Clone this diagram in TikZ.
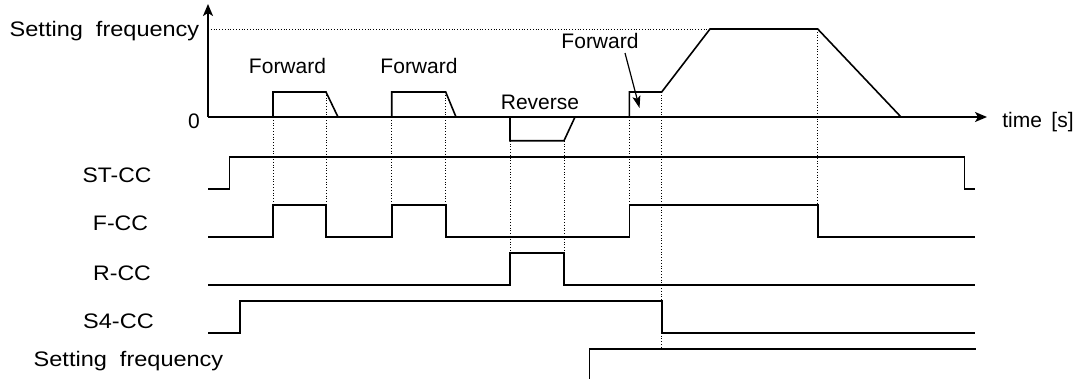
\documentclass[tikz,border=0pt]{standalone}
\usepackage{fontspec}
\setmainfont{Liberation Sans}
\usetikzlibrary{arrows.meta}
\newcommand{\sx}[2]{\scalebox{#1}[1]{#2}}
\begin{document}
\begin{tikzpicture}[x=1pt,y=-1pt,
  sig/.style={line width=1.6pt, line join=miter},
  guide/.style={dotted, line width=0.8pt},
  axisarrow/.style={sig,-{Stealth[length=12pt,width=10pt,inset=3pt]}},
  callout/.style={line width=1.2pt,-{Stealth[length=12pt,width=8pt,inset=2.5pt]}},
  lbl/.style={inner sep=0pt, anchor=base, font=\fontsize{21}{25}\selectfont}]
\useasboundingbox (0,0) rectangle (1082,378);

% axes
\coordinate (origin) at (208,117);
\coordinate (ytip) at (208,4);
\coordinate (xtip) at (987,117);
\draw[axisarrow] (origin) -- (ytip);
\draw[axisarrow] (origin) -- (xtip);
\draw[guide] (208,29) -- (710,29);

% speed waveform
\draw[sig] (273,117) -- (273,92) -- (326,92) -- (338,117);
\draw[sig] (391.7,117) -- (391.7,92) -- (445.7,92) -- (456,117);
\draw[sig] (510,117) -- (510,140.7) -- (564,140.7) -- (575,117);
\draw[sig] (629.3,117) -- (629.3,92) -- (661.7,92) -- (710,29) -- (817.7,29) -- (901,117);

% dotted guides
\draw[guide] (273,117) -- (273,204.7);
\draw[guide] (326,92) -- (326,204.7);
\draw[guide] (391.7,117) -- (391.7,204.7);
\draw[guide] (445.7,92) -- (445.7,204.7);
\draw[guide] (510,140.7) -- (510,252.7);
\draw[guide] (564,140.7) -- (564,252.7);
\draw[guide] (629.3,117) -- (629.3,204.7);
\draw[guide] (661.7,92) -- (661.7,348.7);
\draw[guide] (817.7,29) -- (817.7,204.7);

% signals
\draw[sig] (208,189) -- (229.3,189) -- (229.3,156.7) -- (964.3,156.7) -- (964.3,189) -- (975,189);
\draw[sig] (208,236.7) -- (273,236.7) -- (273,204.7) -- (326,204.7) -- (326,236.7) -- (391.7,236.7) -- (391.7,204.7) -- (445.7,204.7) -- (445.7,236.7) -- (629.3,236.7) -- (629.3,204.7) -- (817.7,204.7) -- (817.7,236.7) -- (975,236.7);
\draw[sig] (208,285) -- (510,285) -- (510,252.7) -- (564,252.7) -- (564,285) -- (975,285);
\draw[sig] (208,332.7) -- (240,332.7) -- (240,300.7) -- (661.7,300.7) -- (661.7,332.7) -- (975,332.7);
\draw[sig] (589.3,379) -- (589.3,348.7) -- (976,348.7);

% labels
\node[lbl] (sftop) at (104.5,36) {\sx{1.12}{Setting\ \ frequency}};
\node[lbl] (zero) at (194,128) {0};
\node[lbl] (time) at (1038,127) {time\hspace{0.45em}[s]};
\node[lbl] (fwd1) at (287.5,73.3) {Forward};
\node[lbl] (fwd2) at (419,73.3) {Forward};
\node[lbl] (rev) at (540,109) {Reverse};
\node[lbl] (fwd3) at (600,48.3) {Forward};
\node[lbl] (stcc) at (117,182.3) {\sx{1.09}{ST-CC}};
\node[lbl] (fcc) at (120.5,230) {\sx{1.1}{F-CC}};
\node[lbl] (rcc) at (122,280.7) {\sx{1.1}{R-CC}};
\node[lbl] (s4cc) at (118.5,328.3) {\sx{1.12}{S4-CC}};
\node[lbl] (sfbot) at (128.5,366.7) {\sx{1.12}{Setting\ \ frequency}};

% callout arrow
\coordinate (fwd3a) at (625,53);
\coordinate (fwd3b) at (639.5,108);
\draw[callout] (fwd3a) -- (fwd3b);
\end{tikzpicture}
\end{document}
